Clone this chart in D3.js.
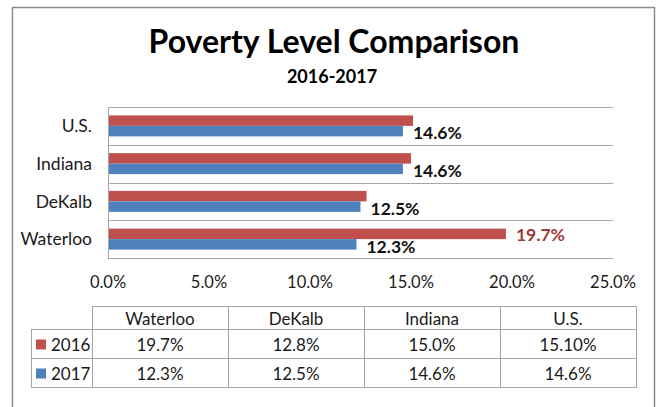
<!DOCTYPE html>
<html>
<head>
<meta charset="utf-8">
<script src="https://cdn.jsdelivr.net/npm/d3@7"></script>
<style>
  html, body { margin: 0; padding: 0; background: #fff; overflow: hidden; }
  svg { display: block; }
  text { font-family: Lato, "Open Sans", sans-serif; }
</style>
</head>
<body>
<script>
// 数据
var categories = ["Waterloo", "DeKalb", "Indiana", "U.S."];
var values2016 = [19.7, 12.8, 15.0, 15.1];
var values2017 = [12.3, 12.5, 14.6, 14.6];
var table2016 = ["19.7%", "12.8%", "15.0%", "15.10%"];
var table2017 = ["12.3%", "12.5%", "14.6%", "14.6%"];
var labels2016 = ["Waterloo"]; // 只有这一个红色条有标签
var xTickValues = [0, 5, 10, 15, 20, 25];
var seriesNames = ["2016", "2017"];
var seriesColors = ["#C0504D", "#4F81BD"];

const width = 657, height = 407;
const margin = { left: 108, right: 44, top: 107, bottom: 149 };
const innerWidth = width - margin.left - margin.right;
const innerHeight = height - margin.top - margin.bottom;

var svg = d3.select("body").append("svg")
  .attr("width", width).attr("height", height);

// 外框（底边在画面外）
svg.append("path")
  .attr("d", "M12.5,407 V7.5 H654.5 V407")
  .attr("fill", "none").attr("stroke", "#8c8c8c").attr("stroke-width", 1.5);

// 标题
svg.append("text")
  .attr("x", 334).attr("y", 53)
  .attr("text-anchor", "middle")
  .style("font-size", "32px").style("font-weight", "bold")
  .attr("fill", "#000")
  .text("Poverty Level Comparison");
svg.append("text")
  .attr("x", 332).attr("y", 83)
  .attr("text-anchor", "middle")
  .style("font-size", "18px").style("font-weight", "bold")
  .attr("fill", "#000")
  .text("2016-2017");

const g = svg.append("g")
  .attr("transform", `translate(${margin.left},${margin.top})`);

var xScale = d3.scaleLinear().domain([0, 25]).range([0, innerWidth]);
var yScale = d3.scaleBand()
  .domain(categories.slice().reverse())
  .range([0, innerHeight])
  .paddingInner(0.444).paddingOuter(0.222);
var step = yScale.step();

// 分类网格线
var gridY = d3.range(categories.length + 1).map(i => i * step);
g.selectAll(".grid").data(gridY).enter().append("line")
  .attr("x1", 0).attr("x2", innerWidth)
  .attr("y1", d => Math.round(d) + 0.5).attr("y2", d => Math.round(d) + 0.5)
  .attr("stroke", "#a6a6a6").attr("stroke-width", 1);
g.append("line")
  .attr("x1", 0.5).attr("x2", 0.5).attr("y1", 0).attr("y2", innerHeight)
  .attr("stroke", "#a6a6a6");

// 分类标签
g.selectAll(".catLabel").data(categories).enter().append("text")
  .attr("x", -16)
  .attr("y", d => yScale(d) + yScale.bandwidth() / 2)
  .attr("dy", "0.35em")
  .attr("text-anchor", "end")
  .style("font-size", "17.5px")
  .attr("fill", "#1a1a1a")
  .text(d => d);

// 条形
var rows = categories.map((c, i) => ({ name: c, v: [values2016[i], values2017[i]] }));
var barH = yScale.bandwidth() / 2;
rows.forEach(function (r) {
  r.v.forEach(function (val, s) {
    var y0 = yScale(r.name) + s * barH;
    g.append("rect")
      .attr("x", 1).attr("y", y0)
      .attr("width", xScale(val) - 1).attr("height", barH)
      .attr("fill", seriesColors[s]);
    var show = s === 1 || labels2016.indexOf(r.name) >= 0;
    if (show) {
      g.append("text")
        .attr("x", xScale(val) + 10)
        .attr("y", y0 + barH / 2 + (s === 1 ? 2 : 1))
        .attr("dy", "0.36em")
        .style("font-size", "17.5px").style("font-weight", "bold")
        .attr("fill", s === 1 ? "#111" : "#9B3B39")
        .text(d3.format(".1f")(val) + "%");
    }
  });
});

// x 轴刻度标签
g.selectAll(".xTick").data(xTickValues).enter().append("text")
  .attr("x", d => xScale(d))
  .attr("y", innerHeight + 24)
  .attr("dy", "0.36em")
  .attr("text-anchor", "middle")
  .style("font-size", "16.5px")
  .attr("fill", "#1a1a1a")
  .text(d => d3.format(".1f")(d) + "%");

// 数据表
var colW = 136;
var tableLeft = 92, legendLeft = 31;
var rowTops = [306, 329, 358, 387];
var tg = svg.append("g");
var lineColor = "#a6a6a6";
function hline(x1, x2, y) {
  tg.append("line").attr("x1", x1).attr("x2", x2)
    .attr("y1", y + 0.5).attr("y2", y + 0.5).attr("stroke", lineColor);
}
function vline(x, y1, y2) {
  tg.append("line").attr("x1", x + 0.5).attr("x2", x + 0.5)
    .attr("y1", y1).attr("y2", y2 + 1).attr("stroke", lineColor);
}
var tableRight = tableLeft + colW * categories.length;
hline(tableLeft, tableRight, rowTops[0]);
hline(legendLeft, tableRight, rowTops[1]);
hline(legendLeft, tableRight, rowTops[2]);
hline(legendLeft, tableRight, rowTops[3]);
vline(legendLeft, rowTops[1], rowTops[3]);
for (var c = 0; c <= categories.length; c++) {
  vline(tableLeft + c * colW, rowTops[0], rowTops[3]);
}
var tableData = [categories, table2016, table2017];
tableData.forEach(function (row, ri) {
  row.forEach(function (t, ci) {
    tg.append("text")
      .attr("x", tableLeft + ci * colW + colW / 2)
      .attr("y", (rowTops[ri] + rowTops[ri + 1]) / 2 + 1)
      .attr("dy", "0.36em")
      .attr("text-anchor", "middle")
      .style("font-size", "17px")
      .attr("fill", "#1a1a1a")
      .text(t);
  });
});
// 图例
seriesNames.forEach(function (name, s) {
  var cy = (rowTops[s + 1] + rowTops[s + 2]) / 2 + 1;
  tg.append("rect")
    .attr("x", 36).attr("y", cy - 5)
    .attr("width", 10).attr("height", 10)
    .attr("fill", seriesColors[s]);
  tg.append("text")
    .attr("x", 51).attr("y", cy)
    .attr("dy", "0.36em")
    .style("font-size", "17px")
    .attr("fill", "#1a1a1a")
    .text(name);
});
</script>
</body>
</html>
